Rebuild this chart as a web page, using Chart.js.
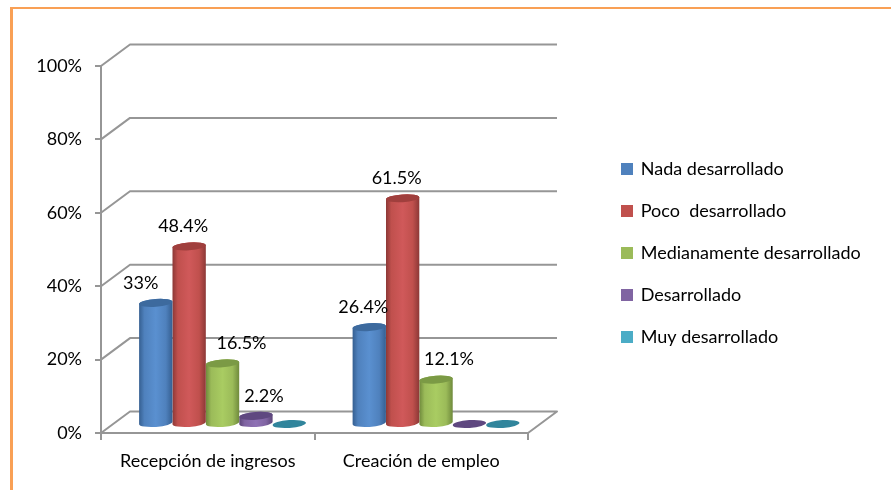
<!DOCTYPE html>
<html><head><meta charset="utf-8">
<style>
html,body{margin:0;padding:0;background:#fff;overflow:hidden}
#wrap{position:relative;width:891px;height:490px}
#frame{position:absolute;left:10px;top:7px;right:0;bottom:-10px;border-left:3px solid #f9a055;border-top:2px solid #f9a055}
canvas{position:absolute;left:0;top:0}
</style>
<script src="https://cdn.jsdelivr.net/npm/chart.js@4/dist/chart.umd.js"></script>
</head><body>
<div id="wrap"><div id="frame"></div><canvas id="c" width="891" height="490"></canvas></div>
<script>
const categories = ['Recepción de ingresos', 'Creación de empleo'];
const nada = [33, 26.4];
const poco = [48.4, 61.5];
const medianamente = [16.5, 12.1];
const desarrollado = [2.2, 0];
const muy = [0, 0];
const seriesNames = ['Nada desarrollado', 'Poco  desarrollado', 'Medianamente desarrollado', 'Desarrollado', 'Muy desarrollado'];
const yTicks = [0, 20, 40, 60, 80, 100];

const FONT = 'Lato, Carlito, sans-serif';
const DX = 14.8, DY = -9;          // bars stand mid-way in the floor depth
const BACK_X = 29, BACK_Y = -21.5; // depth of the 3D box
const GREY = '#969696';

class CylinderElement extends Chart.BarElement {
  draw(ctx) {
    const o = this.options;
    const cx = this.x + DX, top = this.y + DY, base = this.base + DY;
    const rx = this.width / 2, ry = 3.9, rot = -0.07;
    const dxe = rx * Math.cos(rot), dye = rx * Math.sin(rot);
    ctx.save();
    if (base - top > 0.5) {
      const g = ctx.createLinearGradient(cx - rx, 0, cx + rx, 0);
      g.addColorStop(0, o.edgeColor);
      g.addColorStop(0.16, o.backgroundColor);
      g.addColorStop(0.5, o.lightColor);
      g.addColorStop(0.8, o.backgroundColor);
      g.addColorStop(1, o.edgeColor);
      ctx.beginPath();
      ctx.ellipse(cx, base, rx, ry, rot, Math.PI, 0, true);
      ctx.lineTo(cx + dxe, top + dye);
      ctx.ellipse(cx, top, rx, ry, rot, 0, Math.PI, true);
      ctx.closePath();
      ctx.fillStyle = g;
      ctx.fill();
    }
    ctx.beginPath();
    ctx.ellipse(cx, top, rx, ry, rot, 0, Math.PI * 2);
    ctx.fillStyle = o.capColor;
    ctx.fill();
    ctx.restore();
  }
}
CylinderElement.id = 'cylinder';
CylinderElement.defaults = Object.assign({}, Chart.BarElement.defaults, {edgeColor: '#000', lightColor: '#000', capColor: '#000'});
CylinderElement.defaultRoutes = Chart.BarElement.defaultRoutes;

class CylinderController extends Chart.BarController {}
CylinderController.id = 'cylinderBar';
CylinderController.defaults = Object.assign({}, Chart.BarController.defaults, {dataElementType: 'cylinder'});
CylinderController.overrides = Chart.BarController.overrides;
Chart.register(CylinderElement, CylinderController);

const box3d = {
  id: 'box3d',
  beforeDatasetsDraw(chart) {
    const {ctx, chartArea: a, scales: {y}} = chart;
    ctx.save();
    ctx.strokeStyle = GREY;
    ctx.lineWidth = 2;
    ctx.lineJoin = 'round';
    yTicks.forEach(v => {
      const p = y.getPixelForValue(v);
      ctx.beginPath();
      ctx.moveTo(a.left, p);
      ctx.lineTo(a.left + BACK_X, p + BACK_Y);
      ctx.lineTo(a.right + BACK_X, p + BACK_Y);
      if (v === 0) ctx.lineTo(a.right, p);
      ctx.stroke();
    });
    ctx.restore();
  }
};

const valueLabels = {
  id: 'valueLabels',
  afterDatasetsDraw(chart, args, opts) {
    const {ctx} = chart;
    ctx.save();
    ctx.font = '18px ' + FONT;
    ctx.fillStyle = '#000';
    ctx.textAlign = 'center';
    ctx.textBaseline = 'middle';
    chart.data.datasets.forEach((ds, i) => {
      chart.getDatasetMeta(i).data.forEach((el, j) => {
        const v = ds.data[j];
        if (!v) return;
        const n = opts.nudge[i][j];
        ctx.fillText(v + '%', el.x + DX + n, el.y + DY - 20);
      });
    });
    ctx.restore();
  }
};

const placeLegend = {
  id: 'placeLegend',
  afterLayout(chart) {
    const l = chart.legend;
    l.left = 598.25; l.right = 890; l.top = 136; l.bottom = 400;
    l.adjustHitBoxes();
  }
};

const palette = [
  ['#4f81bd', '#355f91', '#5a90d0', '#3d6a9e'],
  ['#c0504d', '#8c3836', '#d0595a', '#a03f3d'],
  ['#9bbb59', '#6f8a3c', '#a9cc62', '#7b9a45'],
  ['#8064a2', '#5c4578', '#8f72b5', '#5f4880'],
  ['#4bacc6', '#2a7f97', '#50b4d0', '#31859c']
];
const legendColors = ['#4f81bd', '#c0504d', '#9bbb59', '#8064a2', '#4bacc6'];
const seriesData = [nada, poco, medianamente, desarrollado, muy];

const canvas = document.getElementById('c');
canvas.getContext('2d').letterSpacing = '1px';

new Chart(canvas, {
  type: 'cylinderBar',
  data: {
    labels: categories,
    datasets: seriesData.map((d, i) => ({
      label: seriesNames[i],
      data: d,
      backgroundColor: palette[i][0],
      borderColor: legendColors[i],
      borderWidth: 2.5,
      edgeColor: palette[i][1],
      lightColor: palette[i][2],
      capColor: palette[i][3],
      categoryPercentage: 0.782,
      barPercentage: 1
    }))
  },
  options: {
    responsive: false,
    animation: false,
    events: [],
    layout: {padding: {left: 0, top: 66, right: 891 - 528, bottom: 0}},
    scales: {
      x: {
        type: 'category',
        offset: true,
        afterFit(s) { s.height = 57; },
        border: {color: GREY, width: 2},
        grid: {display: true, drawOnChartArea: false, drawTicks: true, tickLength: 7, color: GREY, lineWidth: 2, offset: true},
        ticks: {color: '#000', font: {family: FONT, size: 18}, padding: 10, maxRotation: 0, autoSkip: false}
      },
      y: {
        type: 'linear',
        min: 0, max: 100,
        afterFit(s) { s.width = 101; },
        border: {color: GREY, width: 2},
        grid: {display: true, drawOnChartArea: false, drawTicks: true, tickLength: 6, color: GREY, lineWidth: 2},
        ticks: {stepSize: 20, color: '#000', font: {family: FONT, size: 18}, padding: 13, callback: v => v + '%'}
      }
    },
    plugins: {
      title: {display: false},
      tooltip: {enabled: false},
      legend: {
        display: true,
        position: 'chartArea',
        align: 'start',
        labels: {
          color: '#000',
          font: {family: FONT, size: 18},
          boxWidth: 9.5, boxHeight: 9.5,
          padding: 24
        }
      },
      valueLabels: {nudge: [[-15, -6], [-6, -6], [19, 13], [8, 0], [0, 0]]}
    }
  },
  plugins: [box3d, valueLabels, placeLegend]
});
</script>
</body></html>
